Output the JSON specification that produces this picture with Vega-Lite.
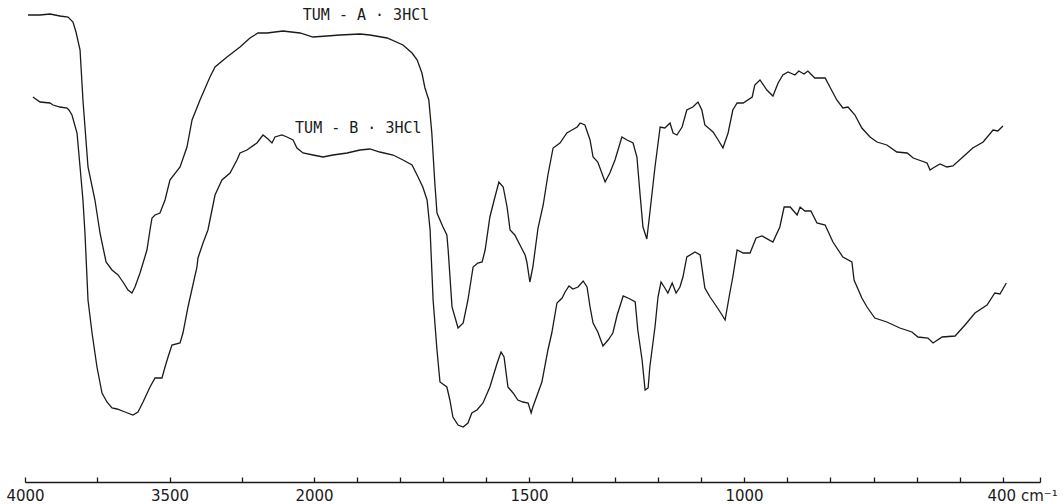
{
  "$schema": "https://vega.github.io/schema/vega-lite/v6.json",
  "width": 1063,
  "height": 482,
  "autosize": "none",
  "padding": {"left": 0, "top": 0, "right": 0, "bottom": 22},
  "background": "white",
  "config": {"view": {"stroke": null}},
  "datasets": {
    "spectra": [
      {"s":"A","wn":3979,"T":467},{"s":"A","wn":3896,"T":467},{"s":"A","wn":3827,"T":468},{"s":"A","wn":3758,"T":466},{"s":"A","wn":3702,"T":465},{"s":"A","wn":3668,"T":460},{"s":"A","wn":3647,"T":450},{"s":"A","wn":3619,"T":432},{"s":"A","wn":3599,"T":382},{"s":"A","wn":3564,"T":315},{"s":"A","wn":3516,"T":282},{"s":"A","wn":3481,"T":249},{"s":"A","wn":3439,"T":220},{"s":"A","wn":3398,"T":212},{"s":"A","wn":3356,"T":207},{"s":"A","wn":3322,"T":200},{"s":"A","wn":3287,"T":192},{"s":"A","wn":3260,"T":189},{"s":"A","wn":3239,"T":195},{"s":"A","wn":3204,"T":209},{"s":"A","wn":3156,"T":232},{"s":"A","wn":3135,"T":252},{"s":"A","wn":3121,"T":264},{"s":"A","wn":3100,"T":267},{"s":"A","wn":3066,"T":269},{"s":"A","wn":3031,"T":282},{"s":"A","wn":2997,"T":302},{"s":"A","wn":2927,"T":315},{"s":"A","wn":2879,"T":335},{"s":"A","wn":2844,"T":362},{"s":"A","wn":2789,"T":382},{"s":"A","wn":2720,"T":405},{"s":"A","wn":2685,"T":415},{"s":"A","wn":2602,"T":425},{"s":"A","wn":2512,"T":435},{"s":"A","wn":2443,"T":444},{"s":"A","wn":2388,"T":449},{"s":"A","wn":2325,"T":449},{"s":"A","wn":2215,"T":451},{"s":"A","wn":2097,"T":449},{"s":"A","wn":2007,"T":445},{"s":"A","wn":1970,"T":446},{"s":"A","wn":1940,"T":447},{"s":"A","wn":1893,"T":448},{"s":"A","wn":1870,"T":447},{"s":"A","wn":1830,"T":444},{"s":"A","wn":1793,"T":437},{"s":"A","wn":1772,"T":429},{"s":"A","wn":1760,"T":422},{"s":"A","wn":1749,"T":409},{"s":"A","wn":1742,"T":394},{"s":"A","wn":1733,"T":382},{"s":"A","wn":1726,"T":349},{"s":"A","wn":1719,"T":299},{"s":"A","wn":1714,"T":269},{"s":"A","wn":1700,"T":255},{"s":"A","wn":1691,"T":247},{"s":"A","wn":1688,"T":232},{"s":"A","wn":1679,"T":175},{"s":"A","wn":1665,"T":154},{"s":"A","wn":1653,"T":159},{"s":"A","wn":1642,"T":182},{"s":"A","wn":1630,"T":215},{"s":"A","wn":1619,"T":219},{"s":"A","wn":1609,"T":220},{"s":"A","wn":1602,"T":232},{"s":"A","wn":1591,"T":265},{"s":"A","wn":1581,"T":282},{"s":"A","wn":1570,"T":300},{"s":"A","wn":1560,"T":295},{"s":"A","wn":1551,"T":275},{"s":"A","wn":1544,"T":252},{"s":"A","wn":1533,"T":247},{"s":"A","wn":1521,"T":237},{"s":"A","wn":1509,"T":227},{"s":"A","wn":1505,"T":220},{"s":"A","wn":1498,"T":200},{"s":"A","wn":1491,"T":215},{"s":"A","wn":1479,"T":254},{"s":"A","wn":1467,"T":277},{"s":"A","wn":1456,"T":307},{"s":"A","wn":1444,"T":334},{"s":"A","wn":1428,"T":339},{"s":"A","wn":1412,"T":349},{"s":"A","wn":1400,"T":352},{"s":"A","wn":1388,"T":355},{"s":"A","wn":1381,"T":359},{"s":"A","wn":1370,"T":357},{"s":"A","wn":1358,"T":342},{"s":"A","wn":1351,"T":325},{"s":"A","wn":1340,"T":320},{"s":"A","wn":1323,"T":300},{"s":"A","wn":1312,"T":309},{"s":"A","wn":1300,"T":322},{"s":"A","wn":1284,"T":345},{"s":"A","wn":1272,"T":342},{"s":"A","wn":1258,"T":339},{"s":"A","wn":1249,"T":325},{"s":"A","wn":1242,"T":289},{"s":"A","wn":1235,"T":255},{"s":"A","wn":1226,"T":243},{"s":"A","wn":1219,"T":269},{"s":"A","wn":1207,"T":315},{"s":"A","wn":1195,"T":355},{"s":"A","wn":1184,"T":354},{"s":"A","wn":1172,"T":359},{"s":"A","wn":1165,"T":349},{"s":"A","wn":1156,"T":347},{"s":"A","wn":1144,"T":355},{"s":"A","wn":1133,"T":372},{"s":"A","wn":1119,"T":375},{"s":"A","wn":1107,"T":380},{"s":"A","wn":1098,"T":372},{"s":"A","wn":1091,"T":357},{"s":"A","wn":1072,"T":350},{"s":"A","wn":1060,"T":342},{"s":"A","wn":1049,"T":334},{"s":"A","wn":1037,"T":349},{"s":"A","wn":1026,"T":372},{"s":"A","wn":1016,"T":379},{"s":"A","wn":1002,"T":379},{"s":"A","wn":981,"T":385},{"s":"A","wn":975,"T":397},{"s":"A","wn":963,"T":402},{"s":"A","wn":947,"T":392},{"s":"A","wn":933,"T":386},{"s":"A","wn":921,"T":399},{"s":"A","wn":910,"T":407},{"s":"A","wn":898,"T":410},{"s":"A","wn":882,"T":407},{"s":"A","wn":873,"T":411},{"s":"A","wn":861,"T":408},{"s":"A","wn":852,"T":411},{"s":"A","wn":836,"T":404},{"s":"A","wn":812,"T":404},{"s":"A","wn":801,"T":395},{"s":"A","wn":785,"T":382},{"s":"A","wn":771,"T":374},{"s":"A","wn":759,"T":375},{"s":"A","wn":743,"T":367},{"s":"A","wn":727,"T":354},{"s":"A","wn":708,"T":345},{"s":"A","wn":692,"T":340},{"s":"A","wn":669,"T":337},{"s":"A","wn":646,"T":330},{"s":"A","wn":622,"T":329},{"s":"A","wn":608,"T":324},{"s":"A","wn":576,"T":319},{"s":"A","wn":569,"T":312},{"s":"A","wn":562,"T":314},{"s":"A","wn":546,"T":318},{"s":"A","wn":530,"T":315},{"s":"A","wn":516,"T":316},{"s":"A","wn":493,"T":325},{"s":"A","wn":470,"T":334},{"s":"A","wn":446,"T":340},{"s":"A","wn":423,"T":352},{"s":"A","wn":412,"T":351},{"s":"A","wn":400,"T":356},
      {"s":"B","wn":3945,"T":385},{"s":"B","wn":3896,"T":380},{"s":"B","wn":3827,"T":379},{"s":"B","wn":3806,"T":377},{"s":"B","wn":3758,"T":375},{"s":"B","wn":3709,"T":374},{"s":"B","wn":3696,"T":372},{"s":"B","wn":3675,"T":367},{"s":"B","wn":3640,"T":349},{"s":"B","wn":3619,"T":315},{"s":"B","wn":3599,"T":282},{"s":"B","wn":3585,"T":249},{"s":"B","wn":3564,"T":182},{"s":"B","wn":3536,"T":149},{"s":"B","wn":3502,"T":115},{"s":"B","wn":3467,"T":89},{"s":"B","wn":3433,"T":80},{"s":"B","wn":3398,"T":74},{"s":"B","wn":3363,"T":73},{"s":"B","wn":3308,"T":70},{"s":"B","wn":3253,"T":67},{"s":"B","wn":3218,"T":70},{"s":"B","wn":3183,"T":80},{"s":"B","wn":3135,"T":95},{"s":"B","wn":3100,"T":104},{"s":"B","wn":3052,"T":104},{"s":"B","wn":3031,"T":115},{"s":"B","wn":3010,"T":125},{"s":"B","wn":2983,"T":137},{"s":"B","wn":2927,"T":139},{"s":"B","wn":2907,"T":149},{"s":"B","wn":2872,"T":175},{"s":"B","wn":2810,"T":215},{"s":"B","wn":2803,"T":224},{"s":"B","wn":2768,"T":239},{"s":"B","wn":2734,"T":252},{"s":"B","wn":2699,"T":277},{"s":"B","wn":2685,"T":287},{"s":"B","wn":2637,"T":302},{"s":"B","wn":2581,"T":309},{"s":"B","wn":2533,"T":322},{"s":"B","wn":2512,"T":329},{"s":"B","wn":2464,"T":332},{"s":"B","wn":2395,"T":339},{"s":"B","wn":2353,"T":347},{"s":"B","wn":2318,"T":343},{"s":"B","wn":2291,"T":339},{"s":"B","wn":2270,"T":345},{"s":"B","wn":2222,"T":347},{"s":"B","wn":2187,"T":345},{"s":"B","wn":2145,"T":342},{"s":"B","wn":2118,"T":334},{"s":"B","wn":2076,"T":329},{"s":"B","wn":2007,"T":327},{"s":"B","wn":1979,"T":325},{"s":"B","wn":1956,"T":327},{"s":"B","wn":1923,"T":329},{"s":"B","wn":1893,"T":332},{"s":"B","wn":1870,"T":333},{"s":"B","wn":1847,"T":330},{"s":"B","wn":1816,"T":327},{"s":"B","wn":1793,"T":322},{"s":"B","wn":1772,"T":317},{"s":"B","wn":1758,"T":305},{"s":"B","wn":1747,"T":295},{"s":"B","wn":1737,"T":282},{"s":"B","wn":1730,"T":252},{"s":"B","wn":1723,"T":182},{"s":"B","wn":1714,"T":132},{"s":"B","wn":1707,"T":100},{"s":"B","wn":1691,"T":95},{"s":"B","wn":1684,"T":82},{"s":"B","wn":1677,"T":65},{"s":"B","wn":1665,"T":57},{"s":"B","wn":1653,"T":55},{"s":"B","wn":1642,"T":59},{"s":"B","wn":1633,"T":69},{"s":"B","wn":1621,"T":72},{"s":"B","wn":1607,"T":79},{"s":"B","wn":1591,"T":95},{"s":"B","wn":1574,"T":119},{"s":"B","wn":1565,"T":130},{"s":"B","wn":1558,"T":125},{"s":"B","wn":1549,"T":95},{"s":"B","wn":1537,"T":89},{"s":"B","wn":1526,"T":82},{"s":"B","wn":1514,"T":80},{"s":"B","wn":1502,"T":79},{"s":"B","wn":1495,"T":69},{"s":"B","wn":1491,"T":75},{"s":"B","wn":1470,"T":100},{"s":"B","wn":1456,"T":132},{"s":"B","wn":1447,"T":149},{"s":"B","wn":1435,"T":179},{"s":"B","wn":1423,"T":184},{"s":"B","wn":1416,"T":190},{"s":"B","wn":1407,"T":196},{"s":"B","wn":1398,"T":193},{"s":"B","wn":1386,"T":195},{"s":"B","wn":1374,"T":201},{"s":"B","wn":1365,"T":195},{"s":"B","wn":1358,"T":175},{"s":"B","wn":1351,"T":159},{"s":"B","wn":1340,"T":150},{"s":"B","wn":1328,"T":136},{"s":"B","wn":1316,"T":142},{"s":"B","wn":1305,"T":149},{"s":"B","wn":1295,"T":167},{"s":"B","wn":1281,"T":186},{"s":"B","wn":1265,"T":183},{"s":"B","wn":1253,"T":180},{"s":"B","wn":1247,"T":152},{"s":"B","wn":1237,"T":122},{"s":"B","wn":1230,"T":92},{"s":"B","wn":1223,"T":94},{"s":"B","wn":1219,"T":115},{"s":"B","wn":1207,"T":155},{"s":"B","wn":1200,"T":185},{"s":"B","wn":1193,"T":200},{"s":"B","wn":1184,"T":194},{"s":"B","wn":1177,"T":189},{"s":"B","wn":1167,"T":199},{"s":"B","wn":1158,"T":189},{"s":"B","wn":1149,"T":195},{"s":"B","wn":1142,"T":205},{"s":"B","wn":1133,"T":225},{"s":"B","wn":1114,"T":230},{"s":"B","wn":1102,"T":227},{"s":"B","wn":1091,"T":194},{"s":"B","wn":1079,"T":185},{"s":"B","wn":1063,"T":175},{"s":"B","wn":1051,"T":167},{"s":"B","wn":1044,"T":162},{"s":"B","wn":1033,"T":189},{"s":"B","wn":1026,"T":205},{"s":"B","wn":1016,"T":232},{"s":"B","wn":1002,"T":229},{"s":"B","wn":986,"T":229},{"s":"B","wn":972,"T":244},{"s":"B","wn":958,"T":246},{"s":"B","wn":933,"T":240},{"s":"B","wn":917,"T":255},{"s":"B","wn":907,"T":275},{"s":"B","wn":893,"T":275},{"s":"B","wn":877,"T":267},{"s":"B","wn":870,"T":275},{"s":"B","wn":859,"T":271},{"s":"B","wn":845,"T":271},{"s":"B","wn":831,"T":259},{"s":"B","wn":812,"T":257},{"s":"B","wn":794,"T":240},{"s":"B","wn":771,"T":225},{"s":"B","wn":750,"T":220},{"s":"B","wn":745,"T":202},{"s":"B","wn":727,"T":184},{"s":"B","wn":715,"T":175},{"s":"B","wn":697,"T":164},{"s":"B","wn":669,"T":160},{"s":"B","wn":639,"T":154},{"s":"B","wn":611,"T":150},{"s":"B","wn":597,"T":145},{"s":"B","wn":574,"T":144},{"s":"B","wn":562,"T":139},{"s":"B","wn":541,"T":145},{"s":"B","wn":511,"T":146},{"s":"B","wn":488,"T":157},{"s":"B","wn":465,"T":169},{"s":"B","wn":437,"T":177},{"s":"B","wn":419,"T":189},{"s":"B","wn":407,"T":188},{"s":"B","wn":391,"T":199}
    ],
    "labels": [
      {"wn": 1879, "T": 467, "label": "TUM - A · 3HCl"},
      {"wn": 1897, "T": 354, "label": "TUM - B · 3HCl"}
    ]
  },
  "layer": [
    {
      "data": {"name": "spectra"},
      "mark": {"type": "line", "stroke": "#1a1a1a", "strokeWidth": 1.3, "interpolate": "linear"},
      "encoding": {
        "x": {
          "field": "wn", "type": "quantitative",
          "scale": {"domain": [4000, 2000, 1000, 400, 300], "range": [25, 314, 744, 1003, 1040], "zero": false, "nice": false},
          "axis": {
            "values": [4000, 3500, 3000, 2500, 2000, 1900, 1800, 1700, 1600, 1500, 1400, 1300, 1200, 1100, 1000, 900, 800, 700, 600, 500, 400, 300],
            "labelExpr": "datum.value == 4000 ? '4000' : datum.value == 3000 ? '3500' : datum.value == 2000 ? '2000' : datum.value == 1500 ? '1500' : datum.value == 1000 ? '1000' : datum.value == 400 ? '400 cm⁻¹' : ''",
            "title": null,
            "grid": false,
            "domainColor": "#1a1a1a",
            "domainWidth": 1.5,
            "tickColor": "#1a1a1a",
            "tickWidth": 1.3,
            "tickSize": -5,
            "labelPadding": 11,
            "labelFont": "DejaVu Sans",
            "labelFontSize": 15,
            "labelColor": "#1a1a1a",
            "labelOverlap": false,
            "labelBound": false,
            "labelFlush": false,
            "labelAlign": {"condition": {"test": "datum.value == 400", "value": "left"}, "value": "center"},
            "labelOffset": {"condition": {"test": "datum.value == 400", "value": -16}, "value": 0}
          }
        },
        "y": {
          "field": "T", "type": "quantitative",
          "scale": {"domain": [0, 482], "nice": false, "zero": false},
          "axis": null
        },
        "detail": {"field": "s"}
      }
    },
    {
      "data": {"name": "labels"},
      "mark": {"type": "text", "font": "DejaVu Sans Mono", "fontSize": 15, "align": "center", "baseline": "middle", "fill": "#1a1a1a"},
      "encoding": {
        "x": {"field": "wn", "type": "quantitative"},
        "y": {"field": "T", "type": "quantitative"},
        "text": {"field": "label"}
      }
    }
  ]
}
